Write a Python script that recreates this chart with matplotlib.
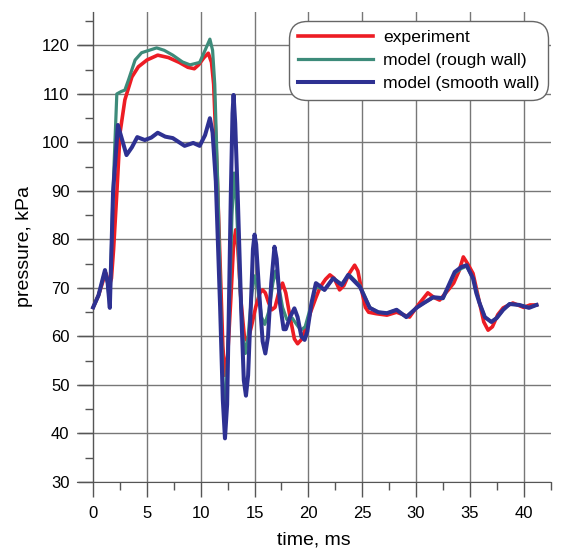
import matplotlib.pyplot as plt
from matplotlib.ticker import MultipleLocator

plt.rcParams['font.family'] = ['Liberation Sans', 'DejaVu Sans']

# experiment (red)
t_exp = [0, 0.5, 1.0, 1.2, 1.5, 1.7, 1.9, 2.2, 2.5, 2.95, 3.6, 4.2, 5.0, 6.0, 7.0, 8.0,
         8.8, 9.4, 9.8, 10.3, 10.7, 11.0, 11.2, 11.5, 11.8, 12.05, 12.25, 12.5, 12.8,
         13.05, 13.25, 13.45, 13.75, 14.05, 14.35, 14.7, 15.1, 15.5, 15.75, 16.0, 16.3,
         16.6, 16.9, 17.3, 17.6, 17.9, 18.3, 18.7, 19.0, 19.4, 19.8, 20.2, 20.7, 21.1,
         21.6, 22.0, 22.4, 22.9, 23.3, 23.8, 24.3, 24.6, 25.0, 25.3, 25.6, 26.3, 27.3,
         28.2, 29.4, 30.2, 31.1, 31.7, 32.2, 33.0, 33.5, 34.0, 34.4, 34.8, 35.3, 35.8,
         36.3, 36.7, 37.1, 37.6, 38.1, 39.0, 40.0, 40.6, 41.2]
p_exp = [66, 68.5, 72, 73, 70.5, 72, 78, 89.6, 102, 108.8, 113.5, 115.6, 117, 118, 117.5,
         116.5, 115.5, 115.2, 116, 117.5, 118.4, 116.5, 112, 95, 75, 58, 52, 56, 68, 79,
         82, 78, 67, 60, 59, 62, 66, 69, 69.6, 69, 67, 65.5, 66, 69.5, 71, 69, 64, 59.5,
         58.5, 59.5, 62, 65, 68, 70.2, 71.8, 72.7, 72, 69.6, 70.5, 73, 74.7, 73.5, 69, 66,
         65, 64.7, 64.4, 65, 64, 66.5, 69, 68, 67.5, 69.6, 71, 73.5, 76.4, 75, 73, 68,
         63, 61.3, 62, 64.5, 65.9, 66.9, 66, 66.5, 66.5]

# model, rough wall (green)
t_rough = [0, 0.5, 1.1, 1.35, 1.55, 1.85, 2.2, 2.6, 2.95, 3.3, 3.9, 4.5, 5.2, 5.9, 6.6,
           7.4, 8.3, 9.0, 9.9, 10.4, 10.85, 11.1, 11.3, 11.6, 11.9, 12.15, 12.35, 12.6,
           12.9, 13.1, 13.3, 13.6, 13.9, 14.15, 14.4, 14.75, 15.0, 15.3, 15.65, 15.95,
           16.3, 16.7, 16.95, 17.2, 17.6, 18.0, 18.5, 18.9, 19.3, 19.7, 20.2, 20.7, 21.5,
           22.3, 23.1, 23.8, 24.8, 25.7, 26.5, 27.3, 28.2, 29.1, 30.1, 30.8, 31.6, 32.5,
           33.6, 34.2, 34.7, 35.3, 35.9, 36.4, 37.0, 37.5, 38.1, 38.7, 39.6, 40.5, 41.2]
p_rough = [66, 68.5, 73.5, 71, 66, 90, 110, 110.5, 110.8, 113, 117, 118.5, 119, 119.5,
           119, 118, 116.6, 116, 116.5, 119, 121.3, 119, 112, 90, 62, 46, 48, 62, 85,
           93.7, 88, 72, 60, 56.5, 60, 69, 72.5, 70, 64, 62.5, 65, 71, 73.5, 71, 66, 63.5,
           63.8, 62.5, 61.3, 62, 66, 70.3, 69.6, 72, 70.8, 72.7, 70.5, 66, 65, 64.8, 65.5,
           64, 66, 67, 68, 67.8, 73, 74, 74.5, 72, 67, 64, 63, 63.8, 65.5, 66.7, 66.5, 66,
           66.5]

# model, smooth wall (blue)
t_smooth = [0, 0.5, 1.1, 1.35, 1.55, 1.85, 2.3, 2.7, 3.1, 3.6, 4.1, 4.8, 5.4, 6.0, 6.7,
            7.4, 8.5, 9.3, 9.9, 10.4, 10.85, 11.1, 11.4, 11.8, 12.05, 12.25, 12.45, 12.6,
            12.8, 12.95, 13.05, 13.2, 13.45, 13.75, 14.0, 14.2, 14.4, 14.65, 14.85, 15.0,
            15.15, 15.4, 15.75, 16.0, 16.25, 16.55, 16.85, 17.05, 17.35, 17.7, 17.9, 18.3,
            18.7, 19.0, 19.35, 19.65, 19.9, 20.3, 20.7, 21.0, 21.5, 22.3, 23.1, 23.7,
            24.8, 25.7, 26.5, 27.3, 28.2, 29.1, 30.1, 30.8, 31.6, 32.5, 33.6, 34.2, 34.7,
            35.3, 35.6, 35.9, 36.4, 37.0, 37.5, 38.1, 38.7, 39.6, 40.5, 41.2]
p_smooth = [66, 68.5, 73.7, 71, 65.9, 89.6, 103.6, 100.5, 97.4, 99, 101.1, 100.5, 101,
            102, 101.2, 100.9, 99.3, 99.9, 99.3, 101.5, 105, 102, 92, 66, 47, 39, 46, 64,
            90, 106, 109.8, 104, 88, 66, 51, 47.8, 52, 66, 78, 81, 79, 70, 59, 56.5, 60,
            71, 78.5, 76, 67, 61.5, 61.5, 64, 65.8, 64, 60, 59.3, 61, 67, 71, 70.5, 69.6,
            72, 70.6, 72.7, 70.2, 65.9, 65, 64.8, 65.5, 64, 66, 67, 68.1, 67.9, 73.3, 74.3,
            74.7, 72, 69, 66.9, 64, 63, 63.8, 65.5, 66.7, 66.5, 65.9, 66.5]

W, H = 562, 550
fig = plt.figure(figsize=(W / 100, H / 100), dpi=100)
# axes box in pixels: x -1.5..42.5 ms, y 30..127 kPa
ax = fig.add_axes([77 / W, 68 / H, (550.5 - 77) / W, (482 - 11.5) / H])

ax.plot(t_exp, p_exp, color='#ED1C24', lw=2.6, label='experiment', zorder=3,
        solid_joinstyle='round')
ax.plot(t_rough, p_rough, color='#3D8B7A', lw=2.3, label='model (rough wall)', zorder=4,
        solid_joinstyle='round')
ax.plot(t_smooth, p_smooth, color='#2E3192', lw=2.9, label='model (smooth wall)', zorder=5,
        solid_joinstyle='round')

ax.set_xlim(-1.5, 42.5)
ax.set_ylim(30, 127)
ax.xaxis.set_major_locator(MultipleLocator(5))
ax.xaxis.set_minor_locator(MultipleLocator(2.5))
ax.yaxis.set_major_locator(MultipleLocator(10))
ax.yaxis.set_minor_locator(MultipleLocator(5))

ax.spines['top'].set_visible(False)
ax.spines['right'].set_visible(False)
ax.spines['left'].set_position(('data', 0))
ax.spines['left'].set_color('#555555')
ax.spines['bottom'].set_color('#555555')
ax.tick_params(which='major', length=11, width=1, color='#555555', labelsize=12, pad=6)
ax.tick_params(which='minor', length=6, width=1, color='#555555')
ax.set_xticks([0, 5, 10, 15, 20, 25, 30, 35, 40])
ax.set_yticks([30, 40, 50, 60, 70, 80, 90, 100, 110, 120])
ax.grid(True, which='major', color='#777777', lw=1)
ax.set_axisbelow(True)

ax.set_xlabel('time, ms', fontsize=14, labelpad=8)
ax.set_ylabel('pressure, kPa', fontsize=14)
ax.yaxis.set_label_coords(-0.093, 0.5)

leg = ax.legend(loc='upper right', bbox_to_anchor=(548 / W, 1 - 21 / H),
                bbox_transform=fig.transFigure, borderaxespad=0, fontsize=12.6,
                handlelength=4.3, handletextpad=0.55, labelspacing=0.45,
                borderpad=0.5, frameon=True, fancybox=True, framealpha=1)
frame = leg.get_frame()
frame.set_edgecolor('#666666')
frame.set_linewidth(1)
frame.set_boxstyle('round', pad=0, rounding_size=1.0)

fig.savefig('out.png', dpi=100)
